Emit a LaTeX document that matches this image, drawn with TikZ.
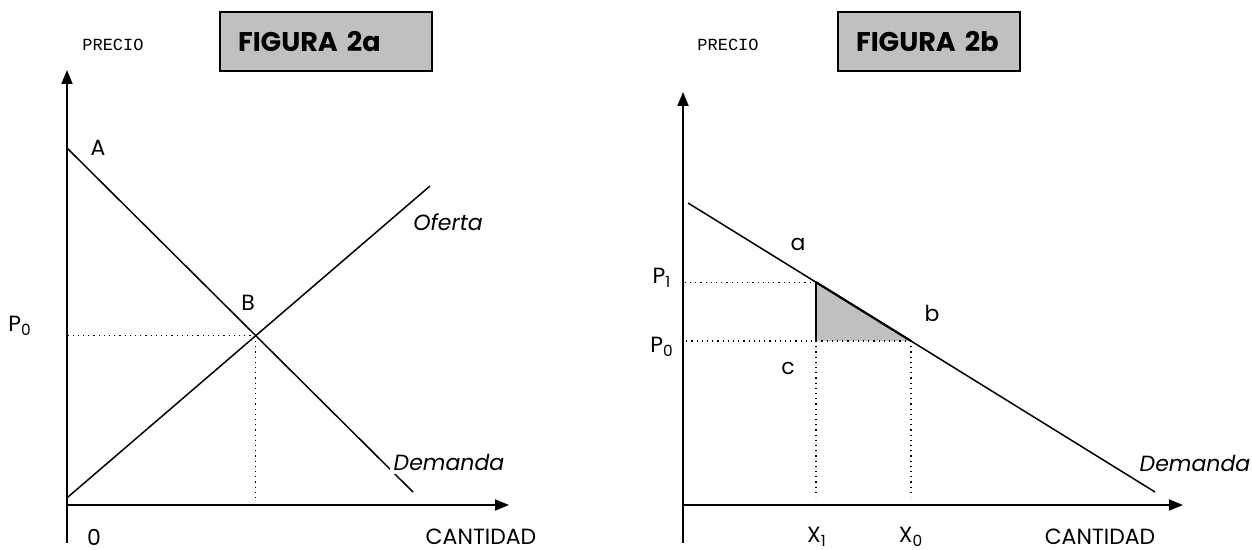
\documentclass[tikz,border=0pt]{standalone}
\usepackage{fontspec}
\setmainfont{Poppins}
\setmonofont{Liberation Mono}
\usetikzlibrary{arrows.meta,calc}
\definecolor{boxgray}{RGB}{192,192,192}
\begin{document}
\begin{tikzpicture}[x=0.5pt, y=-0.5pt, every node/.style={font=\fontsize{11}{13}\selectfont, inner sep=1pt},
  axis/.style={line width=0.9pt, -{Triangle[length=7pt,width=5.5pt]}},
  curve/.style={line width=0.75pt},
  guide/.style={line width=0.6pt, dotted},
  figbox/.style={draw, fill=boxgray, line width=0.8pt, font=\fontsize{13.5}{16}\selectfont\bfseries, minimum height=29.5pt, inner xsep=9pt, align=left},
  axlbl/.style={font=\ttfamily\fontsize{8.5}{10}\selectfont}]
\useasboundingbox (0,0) rectangle (1252,550);
% Figura 2a: axes
\coordinate (yb1) at (67,543); \coordinate (yt1) at (67,70);
\coordinate (O1) at (67,505); \coordinate (xe1) at (509,505);
\draw[axis] (yb1) -- (yt1);
\draw[axis] (O1) -- (xe1);
% oferta y demanda
\coordinate (A) at (67,148); \coordinate (D1) at (413,492);
\coordinate (S0) at (68,497); \coordinate (S1) at (430,186);
\draw[curve] (A) -- (D1);
\draw[curve] (S0) -- (S1);
\coordinate (E) at (intersection of A--D1 and S0--S1);
\coordinate (Ebot) at ($(E |- O1)+(0,-8)$);
\draw[guide] (E) -- (E -| O1);
\draw[guide] (E) -- (Ebot);
% textos
\node[axlbl] (precioA) at (113,45) {PRECIO};
\node[figbox, text width=88pt] (figA) at (326,41.5) {FIGURA 2a};
\node (labA) at (98,148) {A};
\node[fill=white, inner sep=2pt] (labB) at (248,303) {B};
\node (labP0a) at (20,326) {P\textsubscript{0}};
\node[font=\fontsize{11}{13}\selectfont\itshape] (labOf) at (448,222) {Oferta};
\node[font=\fontsize{11}{13}\selectfont\itshape, fill=white, inner sep=2pt] (labDa) at (449,462) {Demanda};
\node (lab0) at (94,537) {0};
\node (labQa) at (481,537) {CANTIDAD};
% Figura 2b: axes
\coordinate (yb2) at (683,543); \coordinate (yt2) at (683,92);
\coordinate (O2) at (683,505); \coordinate (xe2) at (1183,505);
\draw[axis] (yb2) -- (yt2);
\draw[axis] (O2) -- (xe2);
% demanda y triangulo
\coordinate (D2s) at (688,203); \coordinate (D2e) at (1155,492);
\coordinate (Pa) at ($(D2s)!0.274!(D2e)$);
\coordinate (Pb) at ($(D2s)!0.4775!(D2e)$);
\coordinate (Pc) at (Pa |- Pb);
\fill[boxgray] (Pa) -- (Pc) -- (Pb) -- cycle;
\draw[curve] (D2s) -- (D2e);
\draw[curve] (Pa) -- (Pc);
\draw[line width=1.1pt] (Pa) -- (Pb);
\draw[guide] (Pa) -- (Pa -| O2);
\draw[guide] (Pb) -- (Pb -| O2);
\draw[guide] (Pc) -- ($(Pc |- O2)+(0,-8)$);
\draw[guide] (Pb) -- ($(Pb |- O2)+(0,-8)$);
% textos
\node[axlbl] (precioB) at (728,45) {PRECIO};
\node[figbox, text width=73pt] (figB) at (929,41.5) {FIGURA 2b};
\node (laba) at (798,244) {a};
\node (labP1) at (662,278) {P\textsubscript{1}};
\node (labb) at (932,313) {b};
\node (labP0b) at (662,347) {P\textsubscript{0}};
\node (labc) at (788,368) {c};
\node[font=\fontsize{11}{13}\selectfont\itshape] (labDb) at (1195,463) {Demanda};
\node (labX1) at (817,537) {X\textsubscript{1}};
\node (labX0) at (911,537) {X\textsubscript{0}};
\node (labQb) at (1100,537) {CANTIDAD};
\end{tikzpicture}
\end{document}
